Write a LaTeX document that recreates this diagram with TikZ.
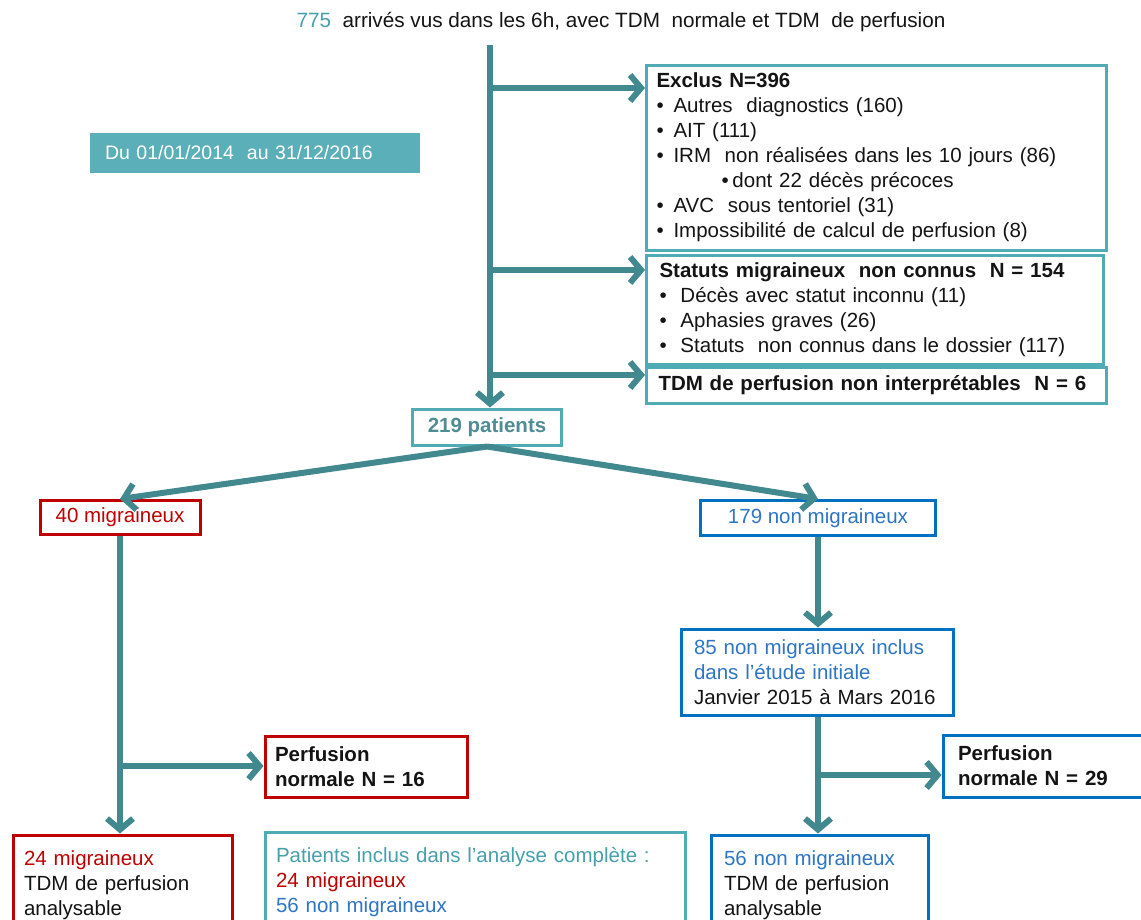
\documentclass[tikz,border=0pt]{standalone}
\usepackage{fontspec}
\setmainfont{Liberation Sans}
\usetikzlibrary{arrows.meta}
\definecolor{tealL}{RGB}{65,137,143}
\definecolor{tealB}{RGB}{80,172,180}
\definecolor{tealF}{RGB}{91,175,185}
\definecolor{tealT}{RGB}{70,160,170}
\definecolor{grayT}{RGB}{80,140,148}
\definecolor{redB}{RGB}{192,0,0}
\definecolor{blueB}{RGB}{0,112,192}
\definecolor{blueT}{RGB}{46,117,196}
\definecolor{txt}{RGB}{20,20,20}
\newcommand{\bul}[1][17pt]{\makebox[#1][l]{•}}
\begin{document}
\begin{tikzpicture}[x=1pt,y=-1pt,
  base/.style={font=\fontsize{20.5}{25}\selectfont, text=txt, inner xsep=10pt, inner ysep=0pt, align=left},
  box/.style={base, line width=3pt, fill=white, anchor=north west},
  link/.style={line width=6pt, draw=tealL, -{Straight Barb[length=11pt,width=26pt]}},
]
\clip (0,0) rectangle (1141,919);

% top text
\node[base, font=\fontsize{20.7}{25}\selectfont] (top) at (621,22) {\textcolor{tealT}{775}\ \ arrivés vus dans les 6h, avec TDM\ \ normale et TDM\ \ de perfusion};

% date box
\node[base, fill=tealF, text=white, minimum width=330pt, minimum height=40pt, inner xsep=15pt, text width=300pt, font=\fontsize{19.5}{23}\selectfont] (date) at (255,153) {Du 01/01/2014\ \ au 31/12/2016};

% exclusion boxes
\node[box, draw=tealB, minimum width=460pt, minimum height=185pt, text width=440pt] (exclus) at (645,63.5)
 {\textbf{Exclus N=396}\\
  \bul Autres\ \ diagnostics (160)\\
  \bul AIT (111)\\
  \bul IRM\ \ non réalisées dans les 10 jours (86)\\
  \hspace*{65pt}\makebox[11pt][l]{•}dont 22 décès précoces\\
  \bul AVC\ \ sous tentoriel (31)\\
  \bul Impossibilité de calcul de perfusion (8)};
\node[box, draw=tealB, minimum width=457pt, minimum height=109pt, text width=431pt, inner xsep=13pt] (statuts) at (645,253.5)
 {\textbf{Statuts migraineux\ \ non connus\ \ N = 154}\\
  \bul[21pt]Décès avec statut inconnu (11)\\
  \bul[21pt]Aphasies graves (26)\\
  \bul[21pt]Statuts\ \ non connus dans le dossier (117)};
\node[box, draw=tealB, minimum width=460pt, minimum height=36pt, text width=436pt, inner xsep=12pt] (tdm) at (645,365.5)
 {\textbf{TDM de perfusion non interprétables\ \ N = 6}};

% 219 patients
\node[base, draw=tealB, line width=3pt, fill=white, minimum width=149pt, minimum height=36pt, text=grayT] (p219) at (487,427) {\textbf{219 patients}};

% groups
\node[base, draw=redB, line width=3pt, fill=white, minimum width=160pt, minimum height=34pt, text=redB] (m40) at (120,517.5) {40 migraineux};
\node[base, draw=blueB, line width=3pt, fill=white, minimum width=235pt, minimum height=35pt, text=blueT] (n179) at (818,518) {179 non migraineux};

\node[box, draw=blueB, minimum width=272pt, minimum height=86pt, inner xsep=13pt, text width=246pt] (n85) at (679.5,627.5)
 {\textcolor{blueT}{85 non migraineux inclus}\\
  \textcolor{blueT}{dans l’étude initiale}\\
  Janvier 2015 à Mars 2016};

\node[box, draw=redB, minimum width=202pt, minimum height=61pt, text width=182pt] (pn16) at (263.5,734.5)
 {\textbf{Perfusion}\\ \textbf{normale N = 16}};
\node[box, draw=blueB, minimum width=215pt, minimum height=62pt, inner xsep=15pt, text width=185pt] (pn29) at (941.5,733.5)
 {\textbf{Perfusion}\\ \textbf{normale N = 29}};

\node[box, draw=redB, minimum width=219pt, inner xsep=11pt, inner ysep=16pt, text width=197pt] (m24) at (11.5,833.5)
 {\textcolor{redB}{24 migraineux}\\ TDM de perfusion\\ analysable};
\node[box, draw=tealB, minimum width=420pt, inner xsep=11pt, inner ysep=15pt, text width=398pt] (incl) at (263.5,830.5)
 {\textcolor{tealT}{Patients inclus dans l’analyse complète :}\\
  \textcolor{redB}{24 migraineux}\\
  \textcolor{blueT}{56 non migraineux}};
\node[box, draw=blueB, minimum width=217pt, inner xsep=13pt, inner ysep=16pt, text width=191pt] (n56) at (709.5,833.5)
 {\textcolor{blueT}{56 non migraineux}\\ TDM de perfusion\\ analysable};

% connectors
\coordinate (s) at (490,45);
\coordinate (b1) at (490,88);
\coordinate (b2) at (490,270);
\coordinate (b3) at (490,375);
\draw[link] (s) -- (s |- p219.north);
\draw[link] (b1) -- (b1 -| exclus.west);
\draw[link] (b2) -- (b2 -| statuts.west);
\draw[link] (b3) -- (b3 -| tdm.west);

\draw[link] (p219.south) -- (m40.north);
\draw[link] (p219.south) -- (n179.north);

\coordinate (b4) at (120,766);
\draw[link] (m40.south) -- (m40.south |- m24.north);
\draw[link] (b4) -- (b4 -| pn16.west);

\draw[link] (n179.south) -- (n179.south |- n85.north);
\coordinate (b5) at (818,775);
\draw[link] (n179.south |- n85.south) -- (n179.south |- n56.north);
\draw[link] (b5) -- (b5 -| pn29.west);
\end{tikzpicture}
\end{document}
